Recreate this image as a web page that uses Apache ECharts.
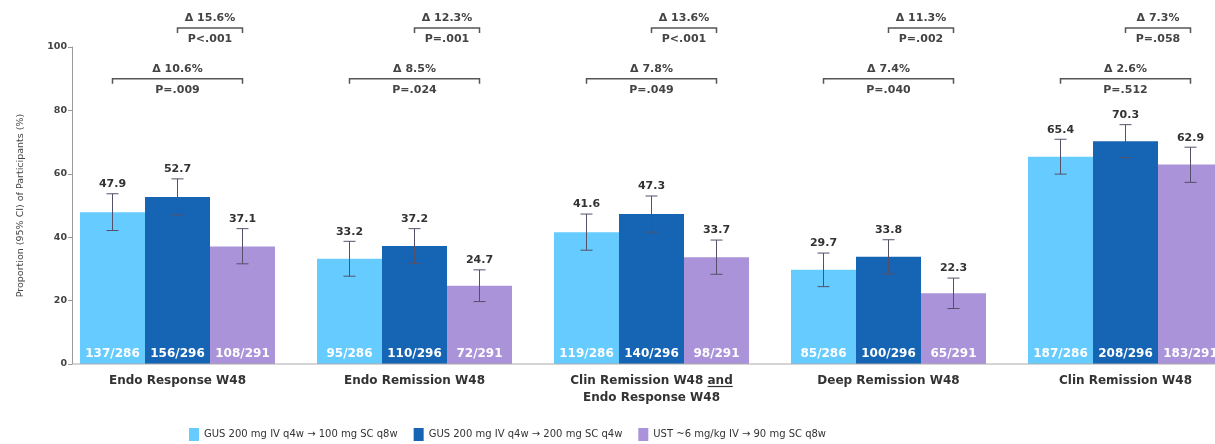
<!DOCTYPE html>
<html>
<head>
<meta charset="utf-8">
<script src="https://cdn.jsdelivr.net/npm/echarts@6/dist/echarts.min.js"></script>
<style>
  html, body { margin: 0; padding: 0; background: #fff; }
  #chart { width: 1215px; height: 444px; }
</style>
</head>
<body>
<div id="chart"></div>
<script>
// ---- data ----
const categories = [
  'Endo Response W48',
  'Endo Remission W48',
  'Clin Remission W48 and\nEndo Response W48',
  'Deep Remission W48',
  'Clin Remission W48'
];
const seriesNames = [
  'GUS 200 mg IV q4w \u2192 100 mg SC q8w',
  'GUS 200 mg IV q4w \u2192 200 mg SC q4w',
  'UST ~6 mg/kg IV \u2192 90 mg SC q8w'
];
const gus100 = [47.9, 33.2, 41.6, 29.7, 65.4];
const gus200 = [52.7, 37.2, 47.3, 33.8, 70.3];
const ust = [37.1, 24.7, 33.7, 22.3, 62.9];

const gus100Low = [42.1, 27.7, 35.9, 24.4, 59.9];
const gus100High = [53.7, 38.7, 47.3, 35.0, 70.9];
const gus200Low = [47.0, 31.7, 41.6, 28.4, 65.1];
const gus200High = [58.4, 42.7, 53.0, 39.2, 75.5];
const ustLow = [31.6, 19.7, 28.3, 17.5, 57.3];
const ustHigh = [42.7, 29.7, 39.1, 27.1, 68.4];

const gus100N = ['137/286', '95/286', '119/286', '85/286', '187/286'];
const gus200N = ['156/296', '110/296', '140/296', '100/296', '208/296'];
const ustN = ['108/291', '72/291', '98/291', '65/291', '183/291'];

// GUS 100 vs UST (lower bracket) and GUS 200 vs UST (upper bracket)
const delta100 = ['10.6', '8.5', '7.8', '7.4', '2.6'];
const pValue100 = ['=.009', '=.024', '=.049', '=.040', '=.512'];
const delta200 = ['15.6', '12.3', '13.6', '11.3', '7.3'];
const pValue200 = ['<.001', '=.001', '<.001', '=.002', '=.058'];

const yTicks = [0, 20, 40, 60, 80, 100];

// ---- styling ----
const FONT = 'DejaVu Sans';
const COLORS = ['#66CCFF', '#1565B4', '#AA93D9'];
const BAR_W = 65;
const TEXT = '#333';
const ERR = '#55506a';
const BRACKET = '#555';
const GRID_LEFT = 59;
const AXIS_SHIFT = 13;

const chart = echarts.init(document.getElementById('chart'), null, { renderer: 'canvas' });

function barSeries(idx, values, nLabels) {
  return {
    type: 'bar',
    name: seriesNames[idx],
    data: values,
    barWidth: BAR_W,
    barGap: '0%',
    itemStyle: { color: COLORS[idx] },
    z: 2,
    label: {
      show: true,
      position: 'insideBottom',
      distance: 4,
      formatter: p => nLabels[p.dataIndex],
      color: '#fff',
      fontFamily: FONT,
      fontWeight: 'bold',
      fontSize: 12
    }
  };
}

function errorSeries(idx, values, lows, highs) {
  const offset = (idx - 1) * BAR_W;
  return {
    type: 'custom',
    name: seriesNames[idx] + ' CI',
    silent: true,
    clip: false,
    z: 5,
    data: values.map((v, i) => [i, lows[i], highs[i], v]),
    encode: { x: 0, y: [1, 2] },
    renderItem(params, api) {
      const c = api.value(0);
      const lo = api.coord([c, api.value(1)]);
      const hi = api.coord([c, api.value(2)]);
      const x = lo[0] + offset;
      const cap = 6;
      const ls = { stroke: ERR, lineWidth: 1 };
      return {
        type: 'group',
        children: [
          { type: 'line', shape: { x1: x, y1: lo[1], x2: x, y2: hi[1] }, style: ls },
          { type: 'line', shape: { x1: x - cap, y1: hi[1], x2: x + cap, y2: hi[1] }, style: ls },
          { type: 'line', shape: { x1: x - cap, y1: lo[1], x2: x + cap, y2: lo[1] }, style: ls },
          {
            type: 'text',
            x: x, y: hi[1] - 4,
            style: {
              text: api.value(3).toFixed(1),
              align: 'center', verticalAlign: 'bottom',
              fontFamily: FONT, fontWeight: 'bold', fontSize: 11,
              fill: TEXT
            }
          }
        ]
      };
    }
  };
}

function bracketSeries(level, fromIdx, deltas, pValues) {
  const x0off = (fromIdx - 1) * BAR_W;
  const x1off = BAR_W;
  return {
    type: 'custom',
    silent: true,
    clip: false,
    z: 5,
    data: categories.map((c, i) => [i, level]),
    encode: { x: 0, y: 1 },
    renderItem(params, api) {
      const p = api.coord([api.value(0), api.value(1)]);
      const xa = p[0] + x0off, xb = p[0] + x1off, y = p[1];
      const xm = (xa + xb) / 2;
      const i = params.dataIndex;
      const ts = { fontFamily: FONT, fontWeight: 'bold', fontSize: 11, fill: '#444', align: 'center', verticalAlign: 'middle' };
      return {
        type: 'group',
        children: [
          {
            type: 'polyline',
            shape: { points: [[xa, y + 5], [xa, y], [xb, y], [xb, y + 5]] },
            style: { stroke: BRACKET, lineWidth: 1.5, fill: null }
          },
          { type: 'text', x: xm, y: y - 10, style: Object.assign({ text: '\u0394 ' + deltas[i] + '%' }, ts) },
          { type: 'text', x: xm, y: y + 11, style: Object.assign({ text: 'P' + pValues[i] }, ts) }
        ]
      };
    }
  };
}

const option = {
  backgroundColor: '#fff',
  animation: false,
  grid: { left: GRID_LEFT, top: 47, width: 1185, height: 317, outerBoundsMode: 'none', containLabel: false },
  legend: {
    data: seriesNames,
    left: 184,
    top: 423,
    icon: 'rect',
    itemWidth: 10,
    itemHeight: 13,
    itemGap: 16,
    textStyle: { fontFamily: FONT, fontSize: 10, color: TEXT }
  },
  xAxis: {
    type: 'category',
    data: categories,
    axisLine: { show: false },
    axisTick: { show: false },
    axisLabel: {
      interval: 0,
      margin: 8,
      lineHeight: 17,
      fontFamily: FONT,
      fontWeight: 'bold',
      fontSize: 12,
      color: TEXT
    }
  },
  yAxis: {
    type: 'value',
    min: 0,
    max: 100,
    interval: 20,
    offset: -AXIS_SHIFT,
    name: 'Proportion (95% CI) of Participants (%)',
    nameLocation: 'middle',
    nameGap: 46,
    nameTextStyle: { fontFamily: FONT, fontSize: 9.5, color: '#444' },
    axisLine: { show: true, lineStyle: { color: '#999', width: 1 } },
    axisTick: { show: true, length: 4, lineStyle: { color: '#999' } },
    splitLine: { show: false },
    axisLabel: {
      margin: 5,
      fontFamily: FONT,
      fontWeight: 'bold',
      fontSize: 9.5,
      color: '#444',
      formatter: v => (yTicks.indexOf(v) >= 0 ? String(v) : '')
    }
  },
  series: [
    barSeries(0, gus100, gus100N),
    barSeries(1, gus200, gus200N),
    barSeries(2, ust, ustN),
    errorSeries(0, gus100, gus100Low, gus100High),
    errorSeries(1, gus200, gus200Low, gus200High),
    errorSeries(2, ust, ustLow, ustHigh),
    bracketSeries(90, 0, delta100, pValue100),
    bracketSeries(106, 1, delta200, pValue200)
  ]
};

chart.setOption(option);

// baseline from the y axis to the right edge, and the underline under "and"
const baseY = chart.convertToPixel({ yAxisIndex: 0 }, 0);
const axisX = GRID_LEFT + AXIS_SHIFT;
const cx = chart.convertToPixel({ xAxisIndex: 0 }, 2);
const ctx = document.createElement('canvas').getContext('2d');
ctx.font = 'bold 12px "' + FONT + '"';
const lineW = ctx.measureText('Clin Remission W48 and').width;
const andW = ctx.measureText('and').width;
const ulY = baseY + 8 + 17 / 2 + 6;
chart.setOption({
  graphic: [
    {
      type: 'line', silent: true, z: 10,
      shape: { x1: axisX, y1: baseY, x2: 1215, y2: baseY },
      style: { stroke: '#aaa', lineWidth: 1 }
    },
    {
      type: 'line', silent: true, z: 10,
      shape: { x1: cx + lineW / 2 - andW, y1: ulY, x2: cx + lineW / 2, y2: ulY },
      style: { stroke: TEXT, lineWidth: 1.2 }
    }
  ]
});
</script>
</body>
</html>
